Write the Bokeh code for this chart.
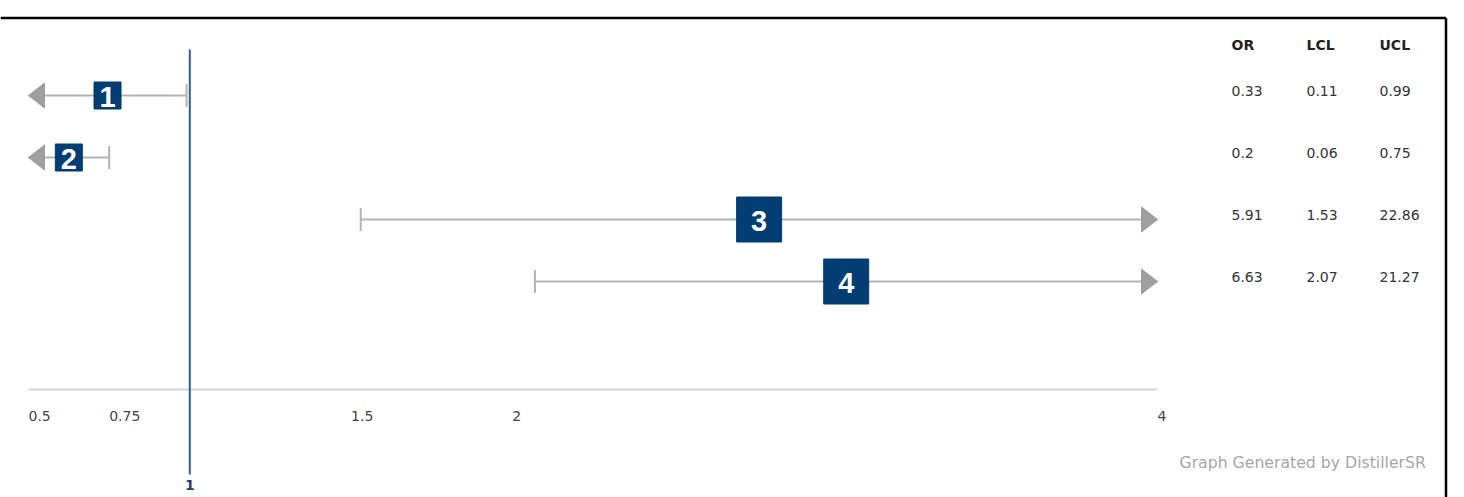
from bokeh.plotting import figure
from bokeh.models import Range1d, ColumnDataSource
from bokeh.core.properties import value
from bokeh.embed import file_html
from bokeh.resources import INLINE

# ---------------- data ----------------
study_labels = ["1", "2", "3", "4"]
odds_ratio = [0.33, 0.2, 5.91, 6.63]
lower_cl = [0.11, 0.06, 1.53, 2.07]
upper_cl = [0.99, 0.75, 22.86, 21.27]
tick_values = [0.5, 0.75, 1.5, 2, 4]
tick_labels = ["0.5", "0.75", "1.5", "2", "4"]
ref_value = 1
ref_label = "1"
axis_min, axis_max = 0.5, 4
table_headers = ["OR", "LCL", "UCL"]
footer_text = "Graph Generated by DistillerSR"

# ---------------- layout / style ----------------
W, H = 1464, 497
PX_LEFT, PX_RIGHT = 28, 1157
scale = (PX_RIGHT - PX_LEFT) / (axis_max - axis_min)
x_start = axis_min - PX_LEFT / scale
x_end = x_start + W / scale


def px(xpix):
    return x_start + xpix / scale


ROW0, ROW_STEP = 95, 62
row_y = [ROW0 + ROW_STEP * i for i in range(len(study_labels))]
box_px = [27, 27, 45, 45]
AXIS_Y = 389
NAVY = "#023d73"
WHISK = "#b3b3b3"
ARROW = "#9f9f9f"
FONT = "DejaVu Sans"

p = figure(width=W, height=H, x_range=Range1d(x_start, x_end), y_range=Range1d(H, 0),
           output_backend="svg", toolbar_location=None, min_border=0,
           x_axis_location=None, y_axis_location=None, outline_line_color=None)
p.grid.visible = False
p.background_fill_color = "white"
p.border_fill_color = "white"

# border (top and right edges visible)
p.segment(x0=[px(0), px(1445.5)], y0=[17.5, 17.5], x1=[px(1445.5), px(1445.5)], y1=[17.5, H + 5],
          line_color="black", line_width=2.5)

# axis baseline
p.segment(x0=[axis_min], y0=[AXIS_Y], x1=[axis_max], y1=[AXIS_Y], line_color="#d6d6d6", line_width=2)

# tick labels (left aligned at tick)
p.text(x=tick_values, y=[AXIS_Y + 26] * len(tick_values), text=tick_labels,
       text_font=value(FONT), text_font_size="14px", text_color="#444444",
       text_align="left", text_baseline="middle")

# reference line at 1
p.segment(x0=[ref_value], y0=[49], x1=[ref_value], y1=[474], line_color="#2f5f95", line_width=2)
p.text(x=[ref_value], y=[484], text=[ref_label], text_font=value(FONT), text_font_size="14px",
       text_font_style="bold", text_color="#1d3e6b", text_align="center", text_baseline="middle")

# whiskers, caps, arrows, boxes
lo = [max(l, axis_min) for l in lower_cl]
hi = [min(u, axis_max) for u in upper_cl]
mid = [(a + b) / 2 for a, b in zip(lo, hi)]

p.segment(x0=lo, y0=row_y, x1=hi, y1=row_y, line_color=WHISK, line_width=2)

cap_x, cap_y0, cap_y1 = [], [], []
arr_xs, arr_ys = [], []
AW, AH = 16 / scale, 12.5
for l, u, y in zip(lower_cl, upper_cl, row_y):
    if l >= axis_min:
        cap_x.append(l); cap_y0.append(y - 11.5); cap_y1.append(y + 11.5)
    else:
        arr_xs.append([axis_min, axis_min + AW, axis_min + AW]); arr_ys.append([y, y - AH, y + AH])
    if u <= axis_max:
        cap_x.append(u); cap_y0.append(y - 11.5); cap_y1.append(y + 11.5)
    else:
        arr_xs.append([axis_max, axis_max - AW, axis_max - AW]); arr_ys.append([y, y - AH, y + AH])

p.segment(x0=cap_x, y0=cap_y0, x1=cap_x, y1=cap_y1, line_color=WHISK, line_width=2)
p.patches(xs=arr_xs, ys=arr_ys, fill_color=ARROW, line_color=ARROW, line_width=1)

src = ColumnDataSource(dict(x=mid, y=row_y, s=box_px, lab=study_labels))
p.rect(x="x", y="y", width="s", height="s", width_units="screen", height_units="screen",
       source=src, fill_color=NAVY, line_color=NAVY)
p.text(x="x", y="y", text="lab", source=src, text_font=value("Liberation Sans"),
       text_font_size="29px", text_font_style="bold", text_color="white",
       text_align="center", text_baseline="middle", y_offset=1)

# table
col_px = [1231, 1306, 1379]
HEAD_Y = 44
p.text(x=[px(c) for c in col_px], y=[HEAD_Y] * 3, text=table_headers, text_font=value(FONT),
       text_font_size="14px", text_font_style="bold", text_color="#222222",
       text_align="left", text_baseline="middle")
for col, vals in zip(col_px, [odds_ratio, lower_cl, upper_cl]):
    p.text(x=[px(col)] * len(vals), y=[y - 4.5 for y in row_y], text=[f"{v:g}" for v in vals],
           text_font=value(FONT), text_font_size="14px", text_color="#333333",
           text_align="left", text_baseline="middle")

# footer
p.text(x=[px(1179)], y=[462], text=[footer_text], text_font=value(FONT), text_font_size="15.7px",
       text_color="#a6a6a6", text_align="left", text_baseline="middle")

open("out.html", "w").write(file_html(p, INLINE))
